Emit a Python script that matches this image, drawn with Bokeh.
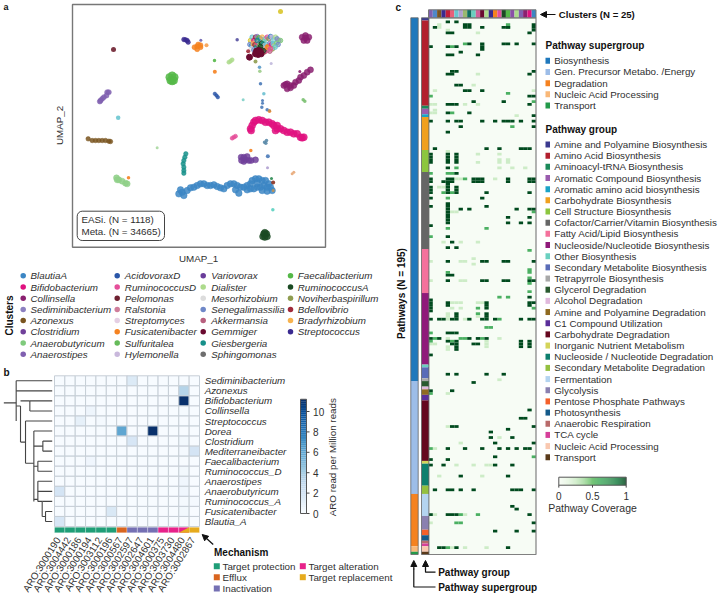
from bokeh.plotting import figure
from bokeh.models import Range1d, Arrow, NormalHead, ColumnDataSource
from bokeh.core.properties import value
from bokeh.transform import linear_cmap
from bokeh.palettes import Blues256, Greens256
from bokeh.embed import file_html
from bokeh.resources import INLINE
import numpy as np

W, H = 720, 595
FONT = value("Liberation Sans")
INK = "#2f2f2f"

# ---------- panel a: UMAP ----------
cluster_names = [
    ["BlautiaA", "Bifidobacterium", "Collinsella", "Sediminibacterium", "Azonexus", "Clostridium", "Anaerobutyricum", "Anaerostipes"],
    ["AcidovoraxD", "RuminococcusD", "Pelomonas", "Ralstonia", "Streptomyces", "Fusicatenibacter", "Sulfuritalea", "Hylemonella"],
    ["Variovorax", "Dialister", "Mesorhizobium", "Senegalimassilia", "Akkermansia", "Gemmiger", "Giesbergeria", "Sphingomonas"],
    ["Faecalibacterium", "RuminococcusA", "Noviherbaspirillum", "Bdellovibrio", "Bradyrhizobium", "Streptococcus"],
]
cluster_colors = [
    ["#3c86c4", "#e0117f", "#8a2070", "#8c80c0", "#7a5520", "#70409a", "#7fca7c", "#8060b0"],
    ["#2a56a8", "#e54f9a", "#6e2030", "#cf7d9b", "#e4cfe4", "#f58220", "#66bb5a", "#c9b8dc"],
    ["#6a3d9a", "#addb8c", "#dcdcdc", "#6f88c8", "#b8607f", "#6a0a30", "#16908a", "#6e6e6e"],
    ["#55b848", "#1a4a22", "#8f9d50", "#a12a3a", "#f7b34f", "#3a2a90"],
]
blautia = [(53.5,-58.0),(54.5,-57.5),(55.0,-58.5),(54.0,-56.8),(56,-57),(57,-56.2),(58,-56),(59,-55.5),(60,-55),(61,-55),(62,-55.5),(63,-55.5),(64,-55.3),(65,-55.8),(66,-56.2),(67,-56.5),(68,-55.5),(69,-55),(70,-55),(71,-55.5),(72,-56),(70.5,-56.8),(71.5,-57.8),(73,-56),(74,-55.5),(75,-55),(75.5,-54),(76.5,-53.5),(77.5,-53.5),(78.5,-54),(79.5,-54),(80.5,-55),(81,-56),(80,-56),(79,-55.5),(78,-56),(77,-56),(76,-56.5),(78.5,-57),(80,-57.2),(81.5,-57),(77,-54.8),(75,-56.5),(74,-56.8)]
bifido = [(76,-36.5),(75.5,-37.5),(75,-38.5),(75.2,-39),(76.5,-36),(77.5,-35.8),(78.5,-36),(79.5,-36.5),(80.5,-36.5),(81.5,-37),(82,-37.5),(83,-38.5),(84,-38.5),(85,-39),(86,-39.5),(87,-39.5),(88,-40),(89,-40),(90,-41),(90.5,-41.2),(91,-41),(83,-37.5),(82.5,-39)]
collinsella = [(91.5,-11.2),(90.5,-11),(92.5,-11),(91,-12),(92,-12),(91.5,-10.5),(93,-20.8),(92,-21.5),(91,-22.5),(90,-23),(89.5,-24),(88.5,-24.5),(88,-25.5),(87,-25.5),(86,-25),(85.5,-25.2),(85,-25.5),(86,-26.5),(87,-26.2)]
azonexus = [(26.3,-41.5),(27.5,-42),(28.5,-42),(29.5,-42),(30.5,-42),(31.5,-42),(32.5,-42.2),(33,-42.3)]
anaerobutyricum = [(34.8,-53.2),(35.5,-53.8),(36.5,-54.2),(37.5,-54.8),(38,-55),(35,-53.8)]
faecali = [(50.7,-23),(52.2,-23),(51.5,-22.5),(51.5,-24.2),(51,-24),(52,-24)]
ruminoA = [(79,-70),(79.8,-70),(79.3,-71),(78.7,-70.8),(80,-70.8),(79.3,-69.6)]
giesbergeria = [(55.6,-46),(55.3,-47),(55,-48),(54.8,-49),(55,-50),(55,-51),(55,-51.8)]
clostridium = [(72.2,-47),(73,-47),(73.5,-47.8),(74.5,-48),(75.2,-48),(76.5,-47.8),(73,-48.3),(72.3,-48),(74,-46.8)]
anaerostipes = [(32,-27.5),(32.5,-27.5),(31.8,-28.5),(31,-29),(30.5,-29.5),(30,-30),(29.8,-30.3)]
gemmiger = [(76.8,-15.2),(77.8,-15.2),(77.3,-16.2),(76.5,-16),(78.2,-16),(77.4,-15),(74.7,-17)]
fusicat = [(59,-13.8),(58.2,-14),(60,-14),(59.3,-13.2),(59,-14.6),(60,-13.4)]
streptococcus = [(55.5,-11.8),(56,-12),(55,-11.7),(56.3,-12.5)]
ruminoD = [(70,-41),(70.5,-40.7),(69.5,-41.3)]
dialister = [(69,-18.2),(69.5,-17.8),(68.5,-18.5)]
acidovorax = [(64.3,-28),(64.8,-28.5),(65.2,-29)]
umap_bands = [
    (blautia, "#3c86c4", 6.5), (bifido, "#e0117f", 7), (collinsella, "#8a2070", 6), (azonexus, "#7a5520", 4.5),
    (anaerobutyricum, "#8fd088", 6), (faecali, "#55b848", 7.5), (ruminoA, "#1a4a22", 6.5), (giesbergeria, "#16908a", 4.5),
    (clostridium, "#70409a", 6), (anaerostipes, "#8060b0", 5), (fusicat, "#f58220", 5), (streptococcus, "#3a2a90", 4.5),
    (ruminoD, "#e54f9a", 4), (dialister, "#addb8c", 4), (acidovorax, "#2a56a8", 3.5),
]
dense_u = [75,75.5,76,76.5,77,77.5,78,78.5,79,79.5,80,80.5,81,81.5,82,82.5,83,83.5,84,74.8,75.3,75.8,76.3,76.8,77.3,77.8,78.3,78.8,79.3,79.8,80.3,80.8,81.3,81.8,82.3,82.8,83.3,75.2,76,76.8,77.6,78.4,79.2,80,80.8,81.6,82.4,77,78,79,80,81]
dense_v = [-12,-11,-12,-11,-10.8,-11.2,-11.5,-11,-12.3,-11.5,-11,-11.5,-10.8,-11,-11.8,-11,-11.5,-12,-12,-13.2,-13.5,-13,-13.3,-14,-13,-13.4,-12.8,-13,-13.5,-13.2,-13.8,-12.8,-13.2,-13,-13.5,-12.8,-13.2,-14.5,-14.8,-15,-14.5,-14.8,-15.4,-15,-15.2,-14.5,-14,-12,-13.8,-15,-14,-14.5]
dense_color = ["#d9c52a","#6ac6d0","#e0117f","#a12a3a","#8c80c0","#55b848","#3c86c4","#f7b34f","#7fca7c","#6ac6d0","#e54f9a","#8f9d50","#3c86c4","#c9b8dc","#6ac6d0","#addb8c","#6f88c8","#8c80c0","#7fca7c","#6f88c8","#3c86c4","#f7b34f","#a12a3a","#16908a","#e54f9a","#55b848","#1a4a22","#16908a","#c9b8dc","#6ac6d0","#f58220","#8c80c0","#e0117f","#6ac6d0","#addb8c","#7fca7c","#6f88c8","#dcdcdc","#6f88c8","#16908a","#1a4a22","#1a4a22","#a12a3a","#e54f9a","#b8607f","#8f9d50","#6ac6d0","#16908a","#1a4a22","#1a4a22","#f58220","#e54f9a"]
lone_u = [61.8,64.3,38.4,75.1,80.7,33.9,84,35.3,81.7,72.8,79,78,77.7,64.2,77.8,78.6,78.6,78.4,80,80.7,79.2,79.8,79.6,80.2,80.1,81.2,71,60.1,87.5,88,81.8,81.3,81.8,76.5,47,90.8,91.3,89.8,74.3,81.5]
lone_v = [-13.4,-21.4,-53.2,-45,-33.2,-14.7,-3.3,-35.2,-62.8,-29.8,-28,-25,-20,-18,-21.2,-30,-30.8,-32,-32.8,-33,-42.5,-42,-42.8,-46.7,-50.2,-18.9,-11.8,-11.9,-52,-51.5,-54.6,-53.4,-57,-18.3,-44.2,-29.8,-30.2,-21.3,-15.2,-12.5]
lone_color = ["#f7a050","#f58220","#f58220","#f58220","#f58220","#6e2030","#d9c52a","#6ac6d0","#5ad0c0","#7fd0c8","#6bc0d0","#4a7ab8","#5a9ac8","#55b848","#9ccc8a","#4a7ab8","#4a7ab8","#4a7ab8","#4a7ab8","#c09050","#5a8aa8","#5a8aa8","#5a8aa8","#4a7ab8","#b0a0d0","#c0b8dc","#5550a0","#6a60b0","#e8a878","#e8a878","#8a3020","#2a8a50","#c09050","#8f9d50","#a8d8a0","#7ac070","#7ac070","#8a2070","#a12a3a","#6ac6d0"]
lone_size = [4,4,3.5,3.5,3.5,5,5,4.5,3.5,3,3.5,3.5,3.5,3.5,3.5,3,3,3.5,3.5,3,3.5,3.5,3.5,4,3,3,3.5,3,3,3,4,3,3,4,3,3.5,3.5,3,4,3]

# ---------- panel b: ARO heatmap ----------
taxa = ["Sediminibacterium", "Azonexus", "Bifidobacterium", "Collinsella", "Streptococcus", "Dorea", "Clostridium", "Mediterraneibacter", "Faecalibacterium", "Ruminococcus_D", "Anaerostipes", "Anaerobutyricum", "Ruminococcus_A", "Fusicatenibacter", "Blautia_A"]
aro_ids = ["ARO:3000190", "ARO:3004442", "ARO:3000186", "ARO:3000194", "ARO:3003112", "ARO:3000196", "ARO:3000567", "ARO:3002597", "ARO:3002647", "ARO:3004601", "ARO:3000375", "ARO:3003730", "ARO:3004480", "ARO:3002867"]
aro_row = [0, 1, 2, 3, 3, 4, 4, 5, 5, 6, 6, 7, 7, 8, 9, 10, 10, 11, 11, 12, 12, 13, 13, 14]
aro_col = [7, 12, 12, 3, 12, 2, 4, 6, 9, 7, 12, 13, 12, 3, 12, 12, 8, 0, 12, 12, 13, 5, 12, 0]
aro_val = [1.5, 3.4, 11.2, 0.5, 0.1, 1.0, 0.2, 6.0, 11.2, 1.8, 0.3, 2.0, 0.2, 0.4, 0.3, 0.4, 0.1, 2.0, 0.4, 0.2, 0.2, 1.7, 0.3, 1.8]
mechanism = ["Target protection"] * 6 + ["Efflux"] + ["Inactivation"] * 3 + ["Target alteration"] * 3 + ["Target replacement"]
mech_names = ["Target protection", "Efflux", "Inactivation", "Target alteration", "Target replacement"]
mech_colors = ["#1f9e77", "#d9651f", "#7570b3", "#e7228a", "#e6ab1e"]
# dendrogram: (height0, leaf0, height1, leaf1)
tree = [(1.0,2.69,4.7,2.69),(4.7,0.5,4.7,4.5),(4.7,0.5,15.5,0.5),(4.7,1.5,15.5,1.5),(4.7,3.0,6.0,3.0),(6.0,3.0,6.0,6.6),
        (6.0,2.5,8.8,2.5),(8.8,2.5,8.8,3.5),(8.8,2.5,15.5,2.5),(8.8,3.5,15.5,3.5),(6.0,6.6,7.5,6.6),(7.5,4.5,7.5,8.7),
        (7.5,4.5,15.5,4.5),(7.5,8.7,10.0,8.7),(10.0,5.5,10.0,12.5),(10.0,5.5,15.5,5.5),(10.0,7.0,12.7,7.0),(12.7,6.5,12.7,7.5),
        (12.7,6.5,15.5,6.5),(12.7,7.5,15.5,7.5),(10.0,9.0,11.2,9.0),(11.2,8.5,11.2,9.5),(11.2,8.5,15.5,8.5),(11.2,9.5,15.5,9.5),
        (10.0,12.3,11.2,12.3),(11.2,10.5,11.2,12.5),(11.2,10.5,15.5,10.5),(11.2,11.5,15.5,11.5),(11.2,12.5,12.5,12.5),(12.5,12.5,12.5,14.0),
        (12.5,12.5,15.5,12.5),(12.5,14.0,13.5,14.0),(13.5,13.5,13.5,14.5),(13.5,13.5,15.5,13.5),(13.5,14.5,15.5,14.5)]

# ---------- panel c: pathway coverage ----------
super_names = ["Biosynthesis", "Gen. Precursor Metabo. /Energy", "Degradation", "Nucleic Acid Processing", "Transport"]
super_colors = ["#1f78bc", "#9dbde8", "#f58220", "#f9b878", "#239a4a"]
super_counts = [132, 41, 19, 2, 1]
group_names = ["Amine and Polyamine Biosynthesis", "Amino Acid Biosynthesis", "Aminoacyl-tRNA Biosynthesis", "Aromatic Compound Biosynthesis", "Aromatic amino acid biosynthesis", "Carbohydrate Biosynthesis", "Cell Structure Biosynthesis", "Cofactor/Carrier/Vitamin Biosynthesis", "Fatty Acid/Lipid Biosynthesis", "Nucleoside/Nucleotide Biosynthesis", "Other Biosynthesis", "Secondary Metabolite Biosynthesis", "Tetrapyrrole Biosynthesis", "Glycerol Degradation", "Alcohol Degradation", "Amine and Polyamine Degradation", "C1 Compound Utilization", "Carbohydrate Degradation", "Inorganic Nutrient Metabolism", "Nucleoside / Nucleotide Degradation", "Secondary Metabolite Degradation", "Fermentation", "Glycolysis", "Pentose Phosphate Pathways", "Photosynthesis", "Anaerobic Respiration", "TCA cycle", "Nucleic Acid Processing", "Transport"]
group_colors = ["#3b3a8f", "#b2202e", "#1b8a5a", "#9a5cae", "#1ba3c6", "#f0a01e", "#8cc63f", "#666666", "#f4719c", "#8f1a7a", "#6ad0c0", "#5a6cb8", "#a8a8a8", "#2a5a30", "#e0b8dc", "#8f6a20", "#5a2e9a", "#65081e", "#d4d45a", "#0e7f6e", "#94c040", "#b4d4f0", "#8a80b0", "#f4602a", "#145a8a", "#b86a6a", "#d6409a", "#f9c8b0", "#5a3a1a"]
group_counts = [1, 31, 1, 2, 1, 12, 8, 28, 16, 26, 1, 4, 1, 2, 1, 2, 2, 22, 1, 8, 3, 8, 5, 2, 2, 1, 1, 2, 1]
strip_colors = ["#8060b0", "#4f88c8", "#7a5520", "#3a2a90", "#c01f3a", "#e8607a", "#6ac6d0", "#b0a0d0", "#9ab870", "#0e6e60", "#6ad0c0", "#d0609a", "#6a0a30", "#addb8c", "#3a2a90", "#f58220", "#e54f9a", "#1a4a22", "#55b848", "#8a50a8", "#addb8c", "#8060b0", "#8a2070", "#e0117f", "#3c86c4"]
coverage_high = {1:[4,6],2:[8,9,24],3:[1,8,9,12,17,18,24],4:[24],5:[4,5,23],9:[9,12,17,18,20,24],10:[0,4,6,12],11:[12],12:[7],13:[4,5,11],
    19:[5,6,24],20:[4,5,23],24:[6,7],26:[8,9,12],28:[23,24],30:[10,17],31:[4,5,6,23],34:[4,9],35:[24],37:[0,4,6,7,12,15,17,18,19,21,24],39:[7,24],41:[4],
    47:[1,13,16,21,22,23],49:[0,4,6],50:[0,4,6],51:[0,4,6],52:[0,4,6],54:[4],56:[6],58:[0,4,5,10,11,12,18,23,24],59:[0,3,4,5,10,11,12,18,23,24],60:[4],
    61:[0,4,6],62:[0,4,6],63:[0,4,6,13,23],65:[0,12],67:[4],68:[0,4,13],69:[4,7,9,20,23,24],70:[4],71:[4],72:[4,18,23],73:[4],74:[4,18,21,23],75:[0],
    79:[4],81:[5],83:[4,6],88:[4,12,13,17,18,24],93:[4,5],95:[4,12,13,17,18,23,24],101:[23],102:[0],103:[0,4,13,23,24],104:[0,4,13,23],105:[0,13],
    106:[0],107:[6,13],108:[6,13],109:[0,2,3,5,6,9,12,13,15,21,23,24],114:[4,5,6],116:[0,2,9,11,13],117:[4,6,21,23],118:[5,6,10,11,21,23],119:[6,21,23],120:[6],
    122:[0],129:[4,6,13,17],132:[10],135:[0,5],142:[23],145:[21,22],148:[5,6,24],149:[18],150:[14],152:[14,19],154:[15,24],
    156:[4,8,12,16,18,20,22,23],159:[15],160:[0,4],162:[0,3,15,19],166:[7,18],171:[1,4,5,7,10,19,20,21,24],177:[19],178:[20],180:[0,4,5,6,23],183:[24],186:[15,20,24],192:[2,3,6,18]}
coverage_mid = {2:[18],3:[18],9:[8],10:[5],27:[18],28:[0],30:[24],34:[5],39:[19],54:[6],56:[0,4,5],58:[8],63:[3,5],65:[4],70:[24],76:[4,13],79:[0],84:[23],91:[23],92:[4,23],94:[23],96:[23],
    99:[23],101:[16,18],105:[11,24],107:[11],109:[16],112:[13,14],114:[0],116:[1,7,8,12],117:[0,5],136:[0],156:[0],159:[24],180:[7,11],183:[6,7],192:[4]}
coverage_low = {2:[2],3:[2],4:[4],5:[11],20:[11],24:[10],26:[1,24],31:[0,1,8,11],33:[1],34:[0,1],35:[20],48:[4],49:[11,16],51:[16,18],52:[11,16,18],54:[16,19,22],56:[5],58:[6,7,15],
    61:[2,3],70:[5,6],81:[3,7,11],87:[10],88:[0,7,8],89:[10],95:[0,7,8],103:[5,6,7,11,12],105:[5,7],107:[4],108:[4,11],109:[4,8],116:[4,16],117:[13],118:[0,1,13],119:[4,13],120:[4],131:[16],136:[4],
    148:[4],152:[16],154:[7],156:[1],162:[6,10,13,14],166:[2,12],180:[1,8],183:[0],192:[5,8,13]}
coverage_ticks = [0, 0.5, 1]
aro_ticks = [0, 2, 4, 6, 8, 10]

# ---------- canvas ----------
p = figure(width=W, height=H, x_range=Range1d(0, W), y_range=Range1d(H, 0), output_backend="svg",
           toolbar_location=None, min_border=0, margin=0, background_fill_color="white", border_fill_color="white")
p.xaxis.visible = False
p.yaxis.visible = False
p.grid.visible = False
p.outline_line_color = None


def map_x(name, d0, d1, s0, s1):
    k = (d1 - d0) / (s1 - s0)
    start = d0 - s0 * k
    p.extra_x_ranges[name] = Range1d(start, start + W * k)


def map_y(name, d0, d1, s0, s1):
    k = (d1 - d0) / (s0 - s1)
    start = d0 - (H - s0) * k
    p.extra_y_ranges[name] = Range1d(start, start + H * k)


def label(x, y, s, size=9.8, style="normal", color=INK, align="left", angle=0, baseline="middle"):
    p.text([x], [y], text=[s], text_font=FONT, text_font_size=f"{size}px", text_font_style=style, text_color=color,
           text_align=align, text_baseline=baseline, angle=angle, angle_units="deg")


def swatch(x0, x1, y, color, h=5):
    p.quad(left=[x0], right=[x1], top=[y - h / 2], bottom=[y + h / 2], fill_color=color, line_color=None)


def arrow(x0, y0, x1, y1, size=6):
    p.add_layout(Arrow(end=NormalHead(size=size, fill_color="#111111", line_color="#111111"), line_color="#111111", line_width=1.2,
                       x_start=x0, y_start=y0, x_end=x1, y_end=y1))


# panel a
map_x("ux", 21.6, 97.5, 72, 325)
map_y("uy", -1.2, -74.0, 4, 246.7)
rk = dict(x_range_name="ux", y_range_name="uy")
for pts, col, size in umap_bands:
    p.scatter([a for a, _ in pts], [b for _, b in pts], size=size, fill_color=col, line_color=col, fill_alpha=0.85, line_alpha=0.5, **rk)
p.scatter(dense_u, dense_v, size=4.5, fill_color=dense_color, line_color=dense_color, fill_alpha=0.6, line_alpha=0.9, **rk)
p.scatter([a for a, _ in gemmiger], [b for _, b in gemmiger], size=6, fill_color="#6a0a30", line_color="#6a0a30", **rk)
p.scatter(lone_u, lone_v, size=lone_size, fill_color=lone_color, line_color=None, fill_alpha=0.9, **rk)
p.quad(left=[72], right=[325], top=[4], bottom=[246.7], fill_color=None, line_color="#777777", line_width=1.4)
p.quad(left=[76.7], right=[164], top=[210.7], bottom=[240], fill_color="white", line_color="#444444", line_width=1, border_radius=5)
label(81, 219, "EASi. (N = 1118)")
label(81, 231, "Meta. (N = 34665)")
label(198, 258, "UMAP_1", align="center")
label(59, 125, "UMAP_2", align="center", angle=90)
label(3, 6.5, "a", 9, "bold", "#111111")
label(8.5, 315, "Clusters", 10, "bold", "#111111", align="center", angle=90)
col_dot = [22.7, 116.7, 202.7, 290]
col_txt = [30, 124.3, 210.7, 297.3]
for j, names in enumerate(cluster_names):
    for i, nm in enumerate(names):
        yy = 275.3 + 11.2 * i
        p.scatter([col_dot[j]], [yy], size=5.5, fill_color=cluster_colors[j][i], line_color=None)
        label(col_txt[j], yy, nm, style="italic")

# panel b
map_x("bx", 0, 14, 54, 199)
map_y("by", 0, 15, 375.3, 526)
map_x("tx", 0, 15.5, 0, 51.7)
bk = dict(x_range_name="bx", y_range_name="by")
blues = list(Blues256)[::-1]
nrow, ncol = len(taxa), len(aro_ids)
grid = np.zeros((nrow, ncol))
for r, c, v in zip(aro_row, aro_col, aro_val):
    grid[r, c] = v
rr, cc = np.meshgrid(np.arange(nrow), np.arange(ncol), indexing="ij")
src = ColumnDataSource(dict(l=cc.ravel(), r=cc.ravel() + 1, t=rr.ravel(), b=rr.ravel() + 1, v=grid.ravel()))
p.quad(left="l", right="r", top="t", bottom="b", source=src, line_color="#c6ced6", line_width=1,
       fill_color=linear_cmap("v", blues, 0, 11.2), **bk)
for s in tree:
    p.line([s[0], s[2]], [s[1], s[3]], line_color="#444444", line_width=1.1, x_range_name="tx", y_range_name="by")
p.text(x=[14.5] * nrow, y=[i + 0.5 for i in range(nrow)], text=taxa, text_font=FONT, text_font_size="9.8px", text_font_style="italic",
       text_color=INK, text_baseline="middle", **bk)
map_y("mech", 0, 1, 526.7, 532.3)
mech_col = [mech_colors[mech_names.index(m)] for m in mechanism]
p.quad(left=list(range(ncol)), right=list(range(1, ncol + 1)), top=[0] * ncol, bottom=[1] * ncol, fill_color=mech_col,
       line_color="white", line_width=0.3, x_range_name="bx", y_range_name="mech")
p.patch([12, 13, 13], [1, 0, 1], fill_color=mech_colors[4], line_color=None, x_range_name="bx", y_range_name="mech")
p.text(x=[i + 0.35 for i in range(ncol)], y=[1.95] * ncol, text=aro_ids, text_font=FONT, text_font_size="9.8px", text_color=INK,
       text_align="right", text_baseline="middle", angle=58, angle_units="deg", x_range_name="bx", y_range_name="mech")
label(3, 371.7, "b", 10, "bold", "#111111")
# colour bar b
map_x("cbx", 0, 1, 300, 306)
map_y("cby", 0, 10, 513, 411)
ramp = np.linspace(0, 11.2, 60)
dv = ramp[1] - ramp[0]
csrc = ColumnDataSource(dict(b=ramp[:-1], t=ramp[1:], v=ramp[:-1] + dv / 2))
p.quad(left=0, right=1, top="t", bottom="b", source=csrc, fill_color=linear_cmap("v", blues, 0, 11.2), line_color=None,
       x_range_name="cbx", y_range_name="cby")
p.quad(left=[0], right=[1], top=[11.2], bottom=[0], fill_color=None, line_color="#555555", line_width=1, x_range_name="cbx", y_range_name="cby")
p.segment(x0=[1] * 6, x1=[1.5] * 6, y0=aro_ticks, y1=aro_ticks, line_color="#444444", x_range_name="cbx", y_range_name="cby")
p.text(x=[2.1] * 6, y=aro_ticks, text=[str(t) for t in aro_ticks], text_font=FONT, text_font_size="10px", text_color=INK, text_baseline="middle",
       x_range_name="cbx", y_range_name="cby")
label(331.7, 456.7, "ARO read per Million reads", align="center", angle=90)
arrow(212.7, 544, 201.7, 534)
label(213.5, 551.7, "Mechanism", 10, "bold", "#111111")
mech_pos = [(213.3, 222, 565.7), (213.3, 222, 576.7), (213.3, 222, 588), (299.3, 308, 565.7), (299.3, 308, 576.7)]
for nm, col, (xs, xt, yy) in zip(mech_names, mech_colors, mech_pos):
    swatch(xs, xs + 6, yy, col, 6)
    label(xt, yy, nm)

# panel c
map_x("hx", 0, 25, 428, 535.5)
map_y("hy", 0, 195, 17.3, 554)
map_x("sx", 0, 1, 410.3, 417.7)
map_x("gx", 0, 1, 421, 428.4)
map_y("sy", 0, 1, 9.3, 17.3)
hk = dict(x_range_name="hx", y_range_name="hy")
greens = list(Greens256)
p.quad(left=[0], right=[25], top=[0], bottom=[195], fill_color="#f7fcf5", line_color=None, **hk)
cl, cr, ct, cb, cv = [], [], [], [], []
for lvl, table in ((0.22, coverage_low), (0.6, coverage_mid), (0.98, coverage_high)):
    for row, cols in table.items():
        for c in cols:
            cl.append(c); cr.append(c + 1); ct.append(row); cb.append(row + 1); cv.append(lvl)
p.quad(left=cl, right=cr, top=ct, bottom=cb, line_color=None,
       fill_color=[greens[int((1 - v) * 255)] for v in cv], **hk)
p.quad(left=[0], right=[25], top=[0], bottom=[195], fill_color=None, line_color="#808080", line_width=1.2, **hk)
for counts, colors, xn in ((super_counts, super_colors, "sx"), (group_counts, group_colors, "gx")):
    edges = np.cumsum([0] + counts)
    p.quad(left=[0] * len(counts), right=[1] * len(counts), top=edges[:-1], bottom=edges[1:], fill_color=colors, line_color=None,
           x_range_name=xn, y_range_name="hy")
    p.quad(left=[0], right=[1], top=[0], bottom=[195], fill_color=None, line_color="#666666", line_width=0.8, x_range_name=xn, y_range_name="hy")
p.quad(left=list(range(25)), right=list(range(1, 26)), top=[0] * 25, bottom=[1] * 25, fill_color=strip_colors, line_color=None,
       x_range_name="hx", y_range_name="sy")
p.quad(left=[0], right=[25], top=[0], bottom=[1], fill_color=None, line_color="#777777", line_width=1, x_range_name="hx", y_range_name="sy")
label(395, 6.5, "c", 10, "bold", "#111111")
label(401, 293, "Pathways (N = 195)", 10, "bold", "#111111", align="center", angle=90)
arrow(555, 14, 540, 14)
label(558.3, 14, "Clusters (N = 25)", 9.6, "bold", "#111111")
label(545, 45, "Pathway supergroup", 10, "bold", "#111111")
for i, (nm, col) in enumerate(zip(super_names, super_colors)):
    yy = 60.3 + 11.17 * i
    swatch(545, 549.5, yy, col, 6)
    label(553.7, yy, nm)
label(545, 128.7, "Pathway group", 10, "bold", "#111111")
for i, (nm, col) in enumerate(zip(group_names, group_colors)):
    yy = 144 + 11.17 * i
    swatch(545, 549.5, yy, col, 6)
    label(553.7, yy, nm)
# colour bar c
map_x("gcx", 0, 1, 558.3, 625.7)
map_y("gcy", 0, 1, 476.7, 484.7)
gr = np.linspace(0, 1, 70)
gs = ColumnDataSource(dict(l=gr[:-1], r=gr[1:], v=(gr[:-1] + gr[1:]) / 2))
p.quad(left="l", right="r", top=0, bottom=1, source=gs, fill_color=linear_cmap("v", greens[::-1], 0, 1), line_color=None,
       x_range_name="gcx", y_range_name="gcy")
p.quad(left=[0], right=[1], top=[0], bottom=[1], fill_color=None, line_color="#555555", line_width=1, x_range_name="gcx", y_range_name="gcy")
p.segment(x0=coverage_ticks, x1=coverage_ticks, y0=[1] * 3, y1=[1.3] * 3, line_color="#444444", x_range_name="gcx", y_range_name="gcy")
p.text(x=coverage_ticks, y=[2.4] * 3, text=[str(t) for t in coverage_ticks], text_font=FONT, text_font_size="10px", text_color=INK,
       text_align="center", text_baseline="middle", x_range_name="gcx", y_range_name="gcy")
label(592, 507, "Pathway Coverage", 10.5, align="center")
# bottom arrows
p.line([435, 413.3, 413.3], [586.5, 586.5, 568], line_color="#111111", line_width=1.2)
p.line([435, 425, 425], [571.7, 571.7, 568], line_color="#111111", line_width=1.2)
arrow(413.3, 569, 413.3, 560)
arrow(425, 569, 425, 560)
label(437.7, 571.7, "Pathway group", 10, "bold", "#111111")
label(437.7, 586.5, "Pathway supergroup", 10, "bold", "#111111")

open("out.html", "w").write(file_html(p, INLINE))
